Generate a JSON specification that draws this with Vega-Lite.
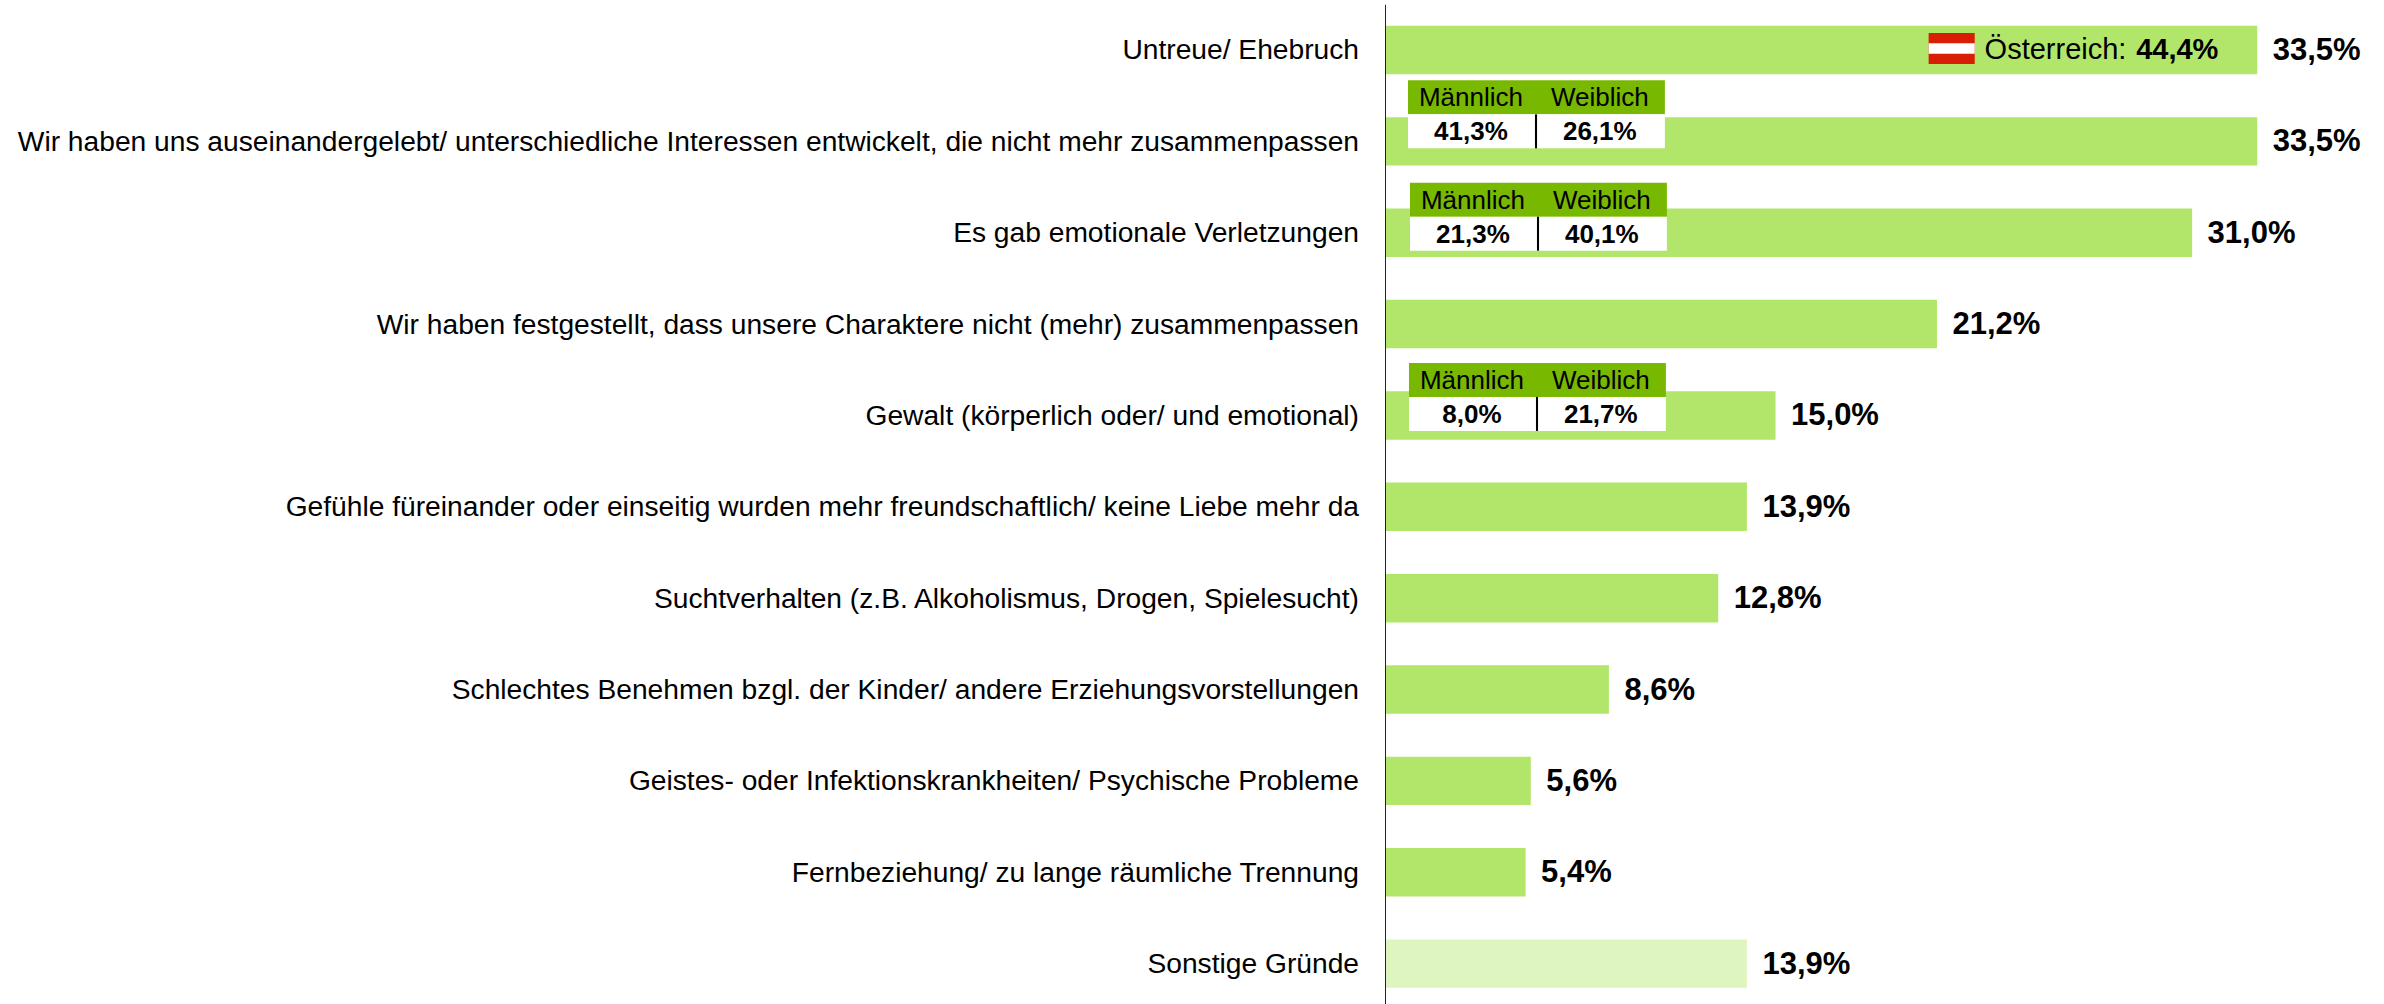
{
"$schema":"https://vega.github.io/schema/vega-lite/v6.json",
"autosize":"none","width":999,"height":999,
"padding":{"left":1385,"top":5,"right":0,"bottom":0},
"background":"white",
"config":{"view":{"stroke":null},"text":{"font":"Liberation Sans","color":"#000000"}},
"params":[
{"name":"dy","value":{"Wir haben uns auseinandergelebt/ unterschiedliche Interessen entwickelt, die nicht mehr zusammenpassen":-10,"Es gab emotionale Verletzungen":1,"Gewalt (körperlich oder/ und emotional)":-1.5}},
{"name":"dx","value":{"Wir haben uns auseinandergelebt/ unterschiedliche Interessen entwickelt, die nicht mehr zusammenpassen":0,"Es gab emotionale Verletzungen":2,"Gewalt (körperlich oder/ und emotional)":1}}
],
"datasets":{
"reasons":[
{"category":"Untreue/ Ehebruch","share":33.5,"label":"33,5%","kind":"Grund"},
{"category":"Wir haben uns auseinandergelebt/ unterschiedliche Interessen entwickelt, die nicht mehr zusammenpassen","share":33.5,"label":"33,5%","kind":"Grund"},
{"category":"Es gab emotionale Verletzungen","share":31.0,"label":"31,0%","kind":"Grund"},
{"category":"Wir haben festgestellt, dass unsere Charaktere nicht (mehr) zusammenpassen","share":21.2,"label":"21,2%","kind":"Grund"},
{"category":"Gewalt (körperlich oder/ und emotional)","share":15.0,"label":"15,0%","kind":"Grund"},
{"category":"Gefühle füreinander oder einseitig wurden mehr freundschaftlich/ keine Liebe mehr da","share":13.9,"label":"13,9%","kind":"Grund"},
{"category":"Suchtverhalten (z.B. Alkoholismus, Drogen, Spielesucht)","share":12.8,"label":"12,8%","kind":"Grund"},
{"category":"Schlechtes Benehmen bzgl. der Kinder/ andere Erziehungsvorstellungen","share":8.6,"label":"8,6%","kind":"Grund"},
{"category":"Geistes- oder Infektionskrankheiten/ Psychische Probleme","share":5.6,"label":"5,6%","kind":"Grund"},
{"category":"Fernbeziehung/ zu lange räumliche Trennung","share":5.4,"label":"5,4%","kind":"Grund"},
{"category":"Sonstige Gründe","share":13.9,"label":"13,9%","kind":"Sonstige"}
],
"tables":[
{"category":"Wir haben uns auseinandergelebt/ unterschiedliche Interessen entwickelt, die nicht mehr zusammenpassen","male":"41,3%","female":"26,1%"},
{"category":"Es gab emotionale Verletzungen","male":"21,3%","female":"40,1%"},
{"category":"Gewalt (körperlich oder/ und emotional)","male":"8,0%","female":"21,7%"}
],
"austria":[{"category":"Untreue/ Ehebruch","country":"Österreich:","value":"44,4%"}]
},
"encoding":{
"y":{"field":"category","type":"nominal","sort":null,"title":null,
"scale":{"domain":["Untreue/ Ehebruch","Wir haben uns auseinandergelebt/ unterschiedliche Interessen entwickelt, die nicht mehr zusammenpassen","Es gab emotionale Verletzungen","Wir haben festgestellt, dass unsere Charaktere nicht (mehr) zusammenpassen","Gewalt (körperlich oder/ und emotional)","Gefühle füreinander oder einseitig wurden mehr freundschaftlich/ keine Liebe mehr da","Suchtverhalten (z.B. Alkoholismus, Drogen, Spielesucht)","Schlechtes Benehmen bzgl. der Kinder/ andere Erziehungsvorstellungen","Geistes- oder Infektionskrankheiten/ Psychische Probleme","Fernbeziehung/ zu lange räumliche Trennung","Sonstige Gründe"],"range":[-0.7,1004.3],"paddingInner":0.47,"paddingOuter":0.235},
"axis":{"domain":true,"domainColor":"#222222","domainWidth":1,"ticks":false,"grid":false,"labels":false,"zindex":1}}
},
"layer":[
{"data":{"name":"reasons"},"mark":{"type":"bar"},
"encoding":{"x":{"field":"share","type":"quantitative","axis":null,"scale":{"domain":[0,38.37],"range":[0,999],"nice":false}},
"color":{"field":"kind","type":"nominal","legend":null,"scale":{"domain":["Grund","Sonstige"],"range":["#b2e66a","#dff5c0"]}}}},
{"data":{"name":"reasons"},"mark":{"type":"text","align":"left","baseline":"middle","dx":15.5,"yOffset":1,"fontSize":31,"fontWeight":"bold"},
"encoding":{"x":{"field":"share","type":"quantitative"},"text":{"field":"label"}}},
{"data":{"name":"reasons"},"mark":{"type":"text","align":"right","baseline":"middle","dx":-26,"yOffset":1.5,"fontSize":28.2},
"encoding":{"x":{"datum":0},"text":{"field":"category"}}},

{"data":{"name":"austria"},"mark":{"type":"bar","height":31,"yOffset":-1.5,"color":"#d81e05"},"encoding":{"x":{"datum":20.88},"x2":{"datum":22.65}}},
{"data":{"name":"austria"},"mark":{"type":"bar","height":10.5,"yOffset":-1.5,"color":"#ffffff"},"encoding":{"x":{"datum":20.88},"x2":{"datum":22.65}}},
{"data":{"name":"austria"},"mark":{"type":"text","align":"left","baseline":"middle","fontSize":29},"encoding":{"x":{"datum":23.03},"text":{"field":"country"}}},
{"data":{"name":"austria"},"mark":{"type":"text","align":"left","baseline":"middle","fontSize":29,"fontWeight":"bold"},"encoding":{"x":{"datum":28.85},"text":{"field":"value"}}},

{"data":{"name":"tables"},"mark":{"type":"bar","height":34,"color":"#78b800","yOffset":{"expr":"dy[datum.category]-34"},"xOffset":{"expr":"dx[datum.category]"},"x2Offset":{"expr":"dx[datum.category]"}},"encoding":{"x":{"datum":0.883},"x2":{"datum":10.75}}},
{"data":{"name":"tables"},"mark":{"type":"bar","height":34,"color":"#ffffff","yOffset":{"expr":"dy[datum.category]"},"xOffset":{"expr":"dx[datum.category]"},"x2Offset":{"expr":"dx[datum.category]"}},"encoding":{"x":{"datum":0.883},"x2":{"datum":10.75}}},
{"data":{"name":"tables"},"mark":{"type":"bar","height":34,"color":"#000000","yOffset":{"expr":"dy[datum.category]"},"xOffset":{"expr":"dx[datum.category]"},"x2Offset":{"expr":"dx[datum.category]"}},"encoding":{"x":{"datum":5.76},"x2":{"datum":5.84}}},
{"data":{"name":"tables"},"mark":{"type":"text","align":"center","baseline":"middle","fontSize":26,"text":"Männlich","yOffset":{"expr":"dy[datum.category]-33"},"xOffset":{"expr":"dx[datum.category]"}},"encoding":{"x":{"datum":3.3}}},
{"data":{"name":"tables"},"mark":{"type":"text","align":"center","baseline":"middle","fontSize":26,"text":"Weiblich","yOffset":{"expr":"dy[datum.category]-33"},"xOffset":{"expr":"dx[datum.category]"}},"encoding":{"x":{"datum":8.25}}},
{"data":{"name":"tables"},"mark":{"type":"text","align":"center","baseline":"middle","fontSize":26,"fontWeight":"bold","yOffset":{"expr":"dy[datum.category]+1"},"xOffset":{"expr":"dx[datum.category]"}},"encoding":{"x":{"datum":3.3},"text":{"field":"male"}}},
{"data":{"name":"tables"},"mark":{"type":"text","align":"center","baseline":"middle","fontSize":26,"fontWeight":"bold","yOffset":{"expr":"dy[datum.category]+1"},"xOffset":{"expr":"dx[datum.category]"}},"encoding":{"x":{"datum":8.25},"text":{"field":"female"}}}
]
}
